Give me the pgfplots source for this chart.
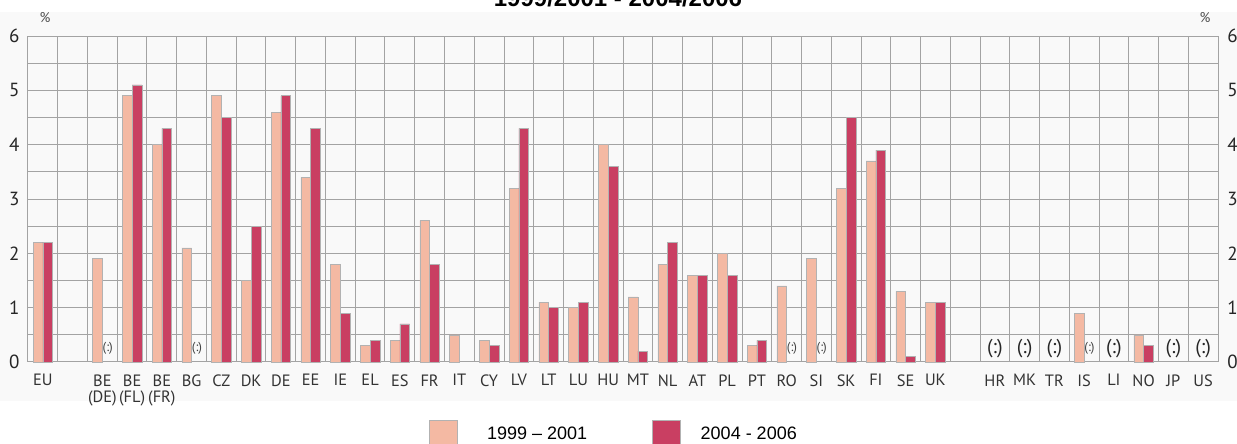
\documentclass[border=0pt]{standalone}
\usepackage{pgfplots}
\pgfplotsset{compat=1.18}
\usepackage{pgfplotstable}
\usepackage{fontspec}
\setmainfont{PT Sans}
\newfontfamily\arial{Liberation Sans}
\definecolor{lightbar}{HTML}{F4B9A3}
\definecolor{darkbar}{HTML}{C93F62}
\definecolor{gridc}{HTML}{A3A3A3}
\definecolor{panel}{HTML}{F9F9F9}

\pgfplotstableread{
x a b
0 2.2 2.2
2 1.9 nan
3 4.9 5.1
4 4.0 4.3
5 2.1 nan
6 4.9 4.5
7 1.5 2.5
8 4.6 4.9
9 3.4 4.3
10 1.8 0.9
11 0.3 0.4
12 0.4 0.7
13 2.6 1.8
14 0.5 nan
15 0.4 0.3
16 3.2 4.3
17 1.1 1.0
18 1.0 1.1
19 4.0 3.6
20 1.2 0.2
21 1.8 2.2
22 1.6 1.6
23 2.0 1.6
24 0.3 0.4
25 1.4 nan
26 1.9 nan
27 3.2 4.5
28 3.7 3.9
29 1.3 0.1
30 1.1 1.1
35 0.9 nan
37 0.5 0.3
}\data

\begin{document}
\begin{tikzpicture}
\fill[panel] (-14pt,-19.5pt) rectangle (604.5pt,175pt);
\begin{axis}[
  at={(0,0)}, anchor=south west,
  width=595pt, height=163pt, scale only axis,
  xmin=-0.5, xmax=39.5, ymin=0, ymax=6,
  ybar=0pt, bar width=0.33,
  xtick={0,...,39},
  xticklabels={EU,{},{BE\\(DE)},{BE\\(FL)},{BE\\(FR)},BG,CZ,DK,DE,EE,IE,EL,ES,FR,IT,CY,LV,LT,LU,HU,MT,NL,AT,PL,PT,RO,SI,SK,FI,SE,UK,{},HR,MK,TR,IS,LI,NO,JP,US},
  minor xtick={-0.5,0.5,...,39.5},
  ytick={0,...,6},
  minor ytick={0.5,1.5,...,5.5},
  xminorgrids, ymajorgrids, yminorgrids,
  major tick length=0pt, minor tick length=0pt,
  grid style={gridc, line width=0.5pt},
  minor grid style={gridc, line width=0.5pt},
  axis line style={gridc, line width=0.5pt},
  xticklabel style={font=\fontsize{8.2}{8.2}\selectfont, align=center, anchor=north, inner sep=0pt, yshift=-6pt, text=black!80},
  yticklabel style={font=\fontsize{9.5}{9.5}\selectfont, anchor=east, inner sep=0pt, xshift=-4pt, text=black!85},
  /pgf/number format/assume math mode=true,
  axis on top=false,
  legend style={at={(0.337,-0.178)}, anchor=north west, draw=none, fill=none, inner sep=0pt,
    font=\arial\fontsize{9}{9}\selectfont, legend columns=2,
    nodes={inner sep=0pt},
    /tikz/column 1/.style={column sep=14.5pt},
    /tikz/column 2/.style={column sep=32.5pt},
    /tikz/column 3/.style={column sep=10pt}},
  legend image code/.code={\fill[#1] (0pt,-7pt) rectangle (14pt,7pt);},
  clip=false,
]
\addplot[fill=lightbar, draw=black!30, line width=0.3pt] table[x=x, y=a] {\data};
\addplot[fill=darkbar, draw=black!30, line width=0.3pt] table[x=x, y=b] {\data};
\legend{1999 – 2001, 2004 - 2006}
\pgfplotsinvokeforeach{2.18,5.18,25.18,26.18,35.18}{
  \node[font=\fontsize{6.5}{6.5}\selectfont, text=black!75, inner sep=0pt] at (axis cs:#1,0.25) {(:)};
}
\pgfplotsinvokeforeach{32,33,34,36,38,39}{
  \node[font=\fontsize{10}{10}\selectfont, text=black!85, inner sep=0pt] at (axis cs:#1,0.25) {(:)};
}
\end{axis}
\begin{axis}[
  at={(0,0)}, anchor=south west,
  width=595pt, height=163pt, scale only axis,
  xmin=-0.5, xmax=39.5, ymin=0, ymax=6,
  hide x axis, axis y line*=right,
  y axis line style={draw=none},
  ytick={0,...,6}, major tick length=0pt,
  yticklabel style={font=\fontsize{9.5}{9.5}\selectfont, anchor=west, inner sep=0pt, xshift=4.5pt, text=black!85},
  /pgf/number format/assume math mode=true,
]
\end{axis}
\node[font=\fontsize{7}{7}\selectfont, text=black!70] at (8.5pt,172pt) {\%};
\node[font=\fontsize{7}{7}\selectfont, text=black!70] at (588.5pt,172pt) {\%};
\node[font=\arial\bfseries\fontsize{12}{12}\selectfont, anchor=base, inner sep=0pt] at (295pt,177.5pt) {1999/2001 - 2004/2006};
\pgfresetboundingbox
\useasboundingbox (-14pt,-41pt) rectangle (604.5pt,181pt);
\end{tikzpicture}
\end{document}
